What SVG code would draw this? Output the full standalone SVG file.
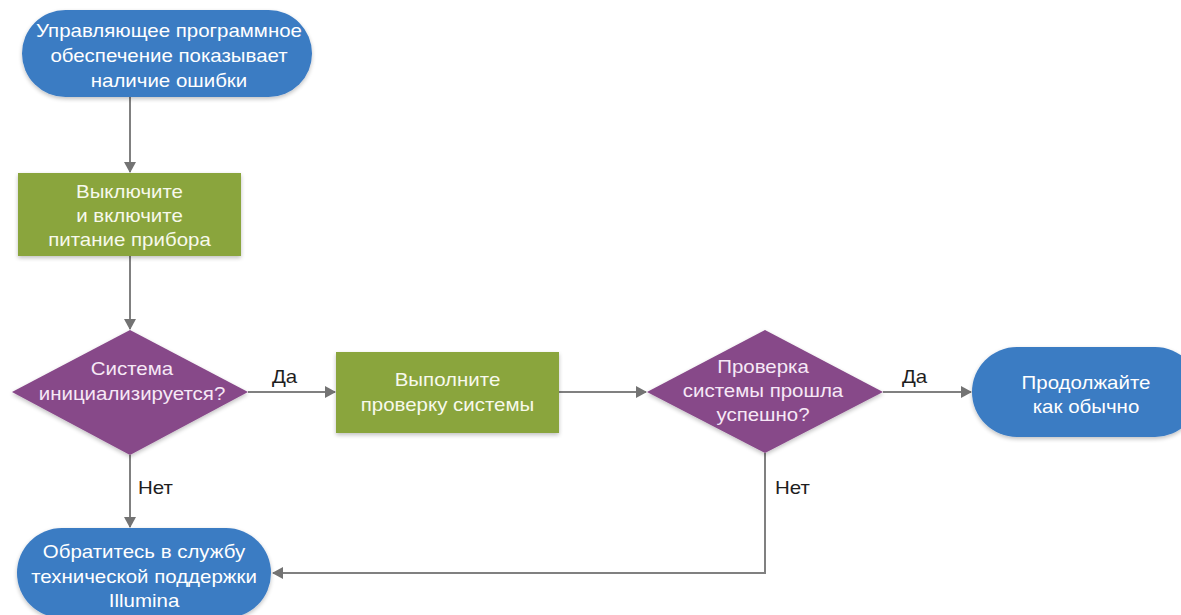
<svg xmlns="http://www.w3.org/2000/svg" width="1181" height="615" viewBox="0 0 1181 615">
<style>
.t{font-family:"Liberation Sans",Arial,sans-serif;font-size:17.5px;text-anchor:middle}
.w{fill:#ffffff}
.wg{fill:#f7f9ec}
.wp{fill:#f6e8f6}
.lbl{font-family:"Liberation Sans",Arial,sans-serif;font-size:17.5px;fill:#1e1e1e}
.blue{fill:#3b7bc3}
.green{fill:#8aa53c}
.purple{fill:#874889}
.c{fill:none;stroke:#808080;stroke-width:2}
</style>
<defs>
<marker id="ah" markerWidth="12" markerHeight="12" refX="10" refY="6" orient="auto" markerUnits="userSpaceOnUse">
<path d="M0,0 L11,6 L0,12 Z" fill="#737373"/>
</marker>
<filter id="sh" x="-10%" y="-10%" width="120%" height="130%">
<feGaussianBlur in="SourceAlpha" stdDeviation="2"/>
<feOffset dx="0" dy="2" result="b"/>
<feComponentTransfer><feFuncA type="linear" slope="0.25"/></feComponentTransfer>
<feMerge><feMergeNode/><feMergeNode in="SourceGraphic"/></feMerge>
</filter>
</defs>
<rect width="1181" height="615" fill="#ffffff"/>

<g id="connectors">
<line class="c" x1="130" y1="97" x2="130" y2="172" marker-end="url(#ah)"/>
<line class="c" x1="130" y1="256" x2="130" y2="329" marker-end="url(#ah)"/>
<line class="c" x1="248" y1="392" x2="335" y2="392" marker-end="url(#ah)"/>
<line class="c" x1="559" y1="392" x2="646" y2="392" marker-end="url(#ah)"/>
<line class="c" x1="883" y1="392" x2="971" y2="392" marker-end="url(#ah)"/>
<line class="c" x1="130" y1="455" x2="130" y2="527" marker-end="url(#ah)"/>
<polyline class="c" points="765,453 765,573 273,573" marker-end="url(#ah)"/>
<text class="lbl" transform="translate(272,383) scale(1.17,1)">Да</text>
<text class="lbl" transform="translate(902,383) scale(1.17,1)">Да</text>
<text class="lbl" transform="translate(138,494) scale(1.17,1)">Нет</text>
<text class="lbl" transform="translate(775,494) scale(1.17,1)">Нет</text>
</g>

<g id="start">
<rect class="blue" x="22" y="10" width="290" height="87" rx="43.5" filter="url(#sh)"/>
<text class="t w" transform="translate(169,0) scale(1.17,1)"><tspan x="0" y="37">Управляющее программное</tspan><tspan x="0" y="62">обеспечение показывает</tspan><tspan x="0" y="87">наличие ошибки</tspan></text>
</g>

<g id="restart">
<rect class="green" x="18" y="173" width="223" height="83" filter="url(#sh)"/>
<text class="t wg" transform="translate(129.5,0) scale(1.17,1)"><tspan x="0" y="198">Выключите</tspan><tspan x="0" y="222">и включите</tspan><tspan x="0" y="246">питание прибора</tspan></text>
</g>

<g id="decision1">
<polygon class="purple" points="130,330 248,392 130,455 12,392" filter="url(#sh)"/>
<text class="t wp" transform="translate(132,0) scale(1.17,1)"><tspan x="0" y="375">Система</tspan><tspan x="0" y="400">инициализируется?</tspan></text>
</g>

<g id="check">
<rect class="green" x="336" y="352" width="223" height="81" filter="url(#sh)"/>
<text class="t wg" transform="translate(447.5,0) scale(1.17,1)"><tspan x="0" y="386">Выполните</tspan><tspan x="0" y="411">проверку системы</tspan></text>
</g>

<g id="decision2">
<polygon class="purple" points="765,330 883,392 765,453 647,392" filter="url(#sh)"/>
<text class="t wp" transform="translate(763,0) scale(1.17,1)"><tspan x="0" y="373">Проверка</tspan><tspan x="0" y="397">системы прошла</tspan><tspan x="0" y="421">успешно?</tspan></text>
</g>

<g id="continue">
<rect class="blue" x="972" y="347" width="228" height="90" rx="45" filter="url(#sh)"/>
<text class="t w" transform="translate(1086,0) scale(1.17,1)"><tspan x="0" y="389">Продолжайте</tspan><tspan x="0" y="413">как обычно</tspan></text>
</g>

<g id="support">
<rect class="blue" x="17" y="528" width="254" height="90" rx="45" filter="url(#sh)"/>
<text class="t w" transform="translate(144,0) scale(1.17,1)"><tspan x="0" y="558">Обратитесь в службу</tspan><tspan x="0" y="583">технической поддержки</tspan><tspan x="0" y="607">Illumina</tspan></text>
</g>
</svg>
